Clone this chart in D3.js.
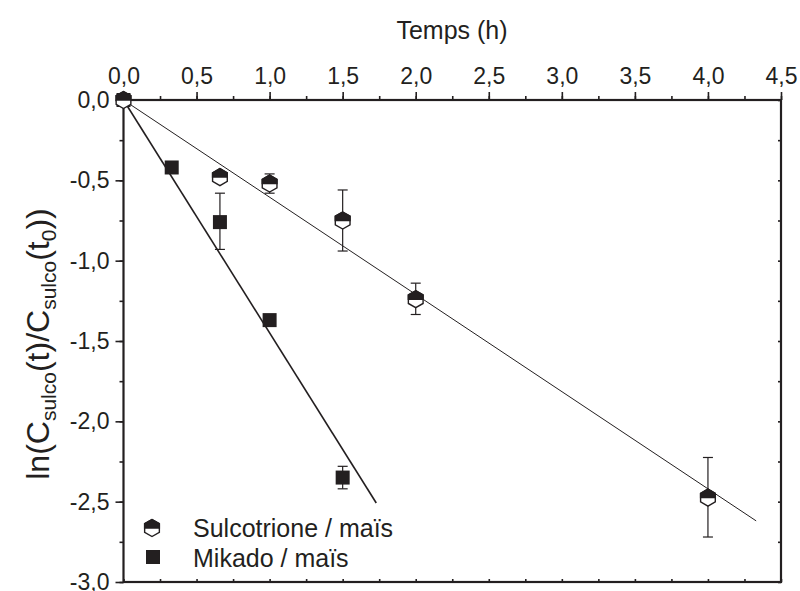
<!DOCTYPE html>
<html>
<head>
<meta charset="utf-8">
<script src="https://cdn.jsdelivr.net/npm/d3@7"></script>
<style>
  body { margin: 0; background: #fff; }
  text { font-family: Arial, "Liberation Sans", sans-serif; fill: #231f20; }
</style>
</head>
<body>
<svg id="chart" width="800" height="591"></svg>
<script>
// data
const sulcoTime = [0, 0.66, 1.0, 1.5, 2.0, 4.0];
const sulcoVal  = [0, -0.48, -0.52, -0.75, -1.24, -2.475];
const sulcoLo   = [null, null, -0.58, -0.94, -1.335, -2.72];
const sulcoHi   = [null, null, -0.46, -0.56, -1.14, -2.225];

const mikaTime = [0, 0.33, 0.66, 1.0, 1.5];
const mikaVal  = [0, -0.42, -0.76, -1.37, -2.35];
const mikaLo   = [null, null, -0.93, null, -2.42];
const mikaHi   = [null, null, -0.58, null, -2.28];

// fitted lines (through origin): slope and end time
const sulcoFit = { slope: -0.605, end: 4.33 };
const mikaFit  = { slope: -1.45, end: 1.73 };

const xTicks = [0, 0.5, 1, 1.5, 2, 2.5, 3, 3.5, 4, 4.5];
const yTicks = [0, -0.5, -1, -1.5, -2, -2.5, -3];
const legendLabels = ["Sulcotrione / maïs", "Mikado / maïs"];

const svg = d3.select("#chart");
const ink = "#231f20";

const x = d3.scaleLinear().domain([0, 4.5]).range([123.5, 781]);
const y = d3.scaleLinear().domain([0, -3]).range([100, 582]);

const fmt = d => d3.format(".1f")(d).replace(".", ",").replace("−", "-");

const minorX = d3.range(0, 4.5001, 0.25);
const minorY = d3.range(0, -3.0001, -0.25);

// top axis (labelled)
const topAxis = svg.append("g").attr("transform", `translate(0,${y(0)})`);
topAxis.call(d3.axisTop(x).tickValues(minorX).tickSize(4).tickFormat(""));
topAxis.append("g").call(d3.axisTop(x).tickValues(xTicks).tickSize(8).tickPadding(8).tickFormat(fmt));

// left axis (labelled)
const leftAxis = svg.append("g").attr("transform", `translate(${x(0)},0)`);
leftAxis.call(d3.axisLeft(y).tickValues(minorY).tickSize(4).tickFormat(""));
leftAxis.append("g").call(d3.axisLeft(y).tickValues(yTicks).tickSize(8).tickPadding(6).tickFormat(fmt));

// bottom and right axes: small inward ticks
svg.append("g").attr("transform", `translate(0,${y(-3)})`)
  .call(d3.axisTop(x).tickValues(minorX).tickSize(3).tickFormat(""));
svg.append("g").attr("transform", `translate(${x(4.5)},0)`)
  .call(d3.axisLeft(y).tickValues(minorY).tickSize(3).tickFormat(""));

svg.selectAll(".domain").remove();
svg.selectAll(".tick line").attr("stroke", ink).attr("stroke-width", 1.6);
svg.selectAll(".tick text").attr("font-size", 23).attr("fill", ink)
  .style("font-family", "Arial, 'Liberation Sans', sans-serif");

// frame
svg.append("rect")
  .attr("x", x(0)).attr("y", y(0))
  .attr("width", x(4.5) - x(0)).attr("height", y(-3) - y(0))
  .attr("fill", "none").attr("stroke", ink).attr("stroke-width", 2.2);

// axis titles
svg.append("text").attr("x", 452).attr("y", 39).attr("text-anchor", "middle")
  .attr("font-size", 25).text("Temps (h)");

const yl = svg.append("text")
  .attr("transform", "translate(49,344) rotate(-90)")
  .attr("text-anchor", "middle").attr("font-size", 32);
yl.append("tspan").text("ln(C");
yl.append("tspan").attr("font-size", 21).attr("dy", 7).text("sulco");
yl.append("tspan").attr("dy", -7).text("(t)/C");
yl.append("tspan").attr("font-size", 21).attr("dy", 7).text("sulco");
yl.append("tspan").attr("dy", -7).text("(t");
yl.append("tspan").attr("font-size", 21).attr("dy", 7).text("0");
yl.append("tspan").attr("dy", -7).text("))");

// fit lines
svg.append("line")
  .attr("x1", x(0)).attr("y1", y(0))
  .attr("x2", x(sulcoFit.end)).attr("y2", y(sulcoFit.slope * sulcoFit.end))
  .attr("stroke", ink).attr("stroke-width", 1);
svg.append("line")
  .attr("x1", x(0)).attr("y1", y(0))
  .attr("x2", x(mikaFit.end)).attr("y2", y(mikaFit.slope * mikaFit.end))
  .attr("stroke", ink).attr("stroke-width", 1.6);

// error bars
function errorBars(times, lo, hi) {
  const idx = d3.range(times.length).filter(i => lo[i] !== null);
  const g = svg.append("g").attr("stroke", ink).attr("stroke-width", 1.2);
  idx.forEach(i => {
    const cx = x(times[i]);
    g.append("line").attr("x1", cx).attr("x2", cx).attr("y1", y(lo[i])).attr("y2", y(hi[i]));
    [lo[i], hi[i]].forEach(v => {
      g.append("line").attr("x1", cx - 5).attr("x2", cx + 5).attr("y1", y(v)).attr("y2", y(v));
    });
  });
}
errorBars(mikaTime, mikaLo, mikaHi);
errorBars(sulcoTime, sulcoLo, sulcoHi);

// hexagon marker, top half filled
function hexagon(g, cx, cy) {
  const r = 8.5, w = r * Math.cos(Math.PI / 6);
  const pts = [[0, -r], [w, -r / 2], [w, r / 2], [0, r], [-w, r / 2], [-w, -r / 2]];
  const topHalf = [[-w, 0], [-w, -r / 2], [0, -r], [w, -r / 2], [w, 0]];
  g.append("polygon").attr("points", pts.map(p => [cx + p[0], cy + p[1]].join(",")).join(" "))
    .attr("fill", "#fff").attr("stroke", ink).attr("stroke-width", 1.4);
  g.append("polygon").attr("points", topHalf.map(p => [cx + p[0], cy + p[1]].join(",")).join(" "))
    .attr("fill", ink).attr("stroke", ink).attr("stroke-width", 1.4);
}
function square(g, cx, cy) {
  g.append("rect").attr("x", cx - 7).attr("y", cy - 7).attr("width", 14).attr("height", 14)
    .attr("fill", ink);
}

const marks = svg.append("g");
mikaTime.forEach((t, i) => square(marks, x(t), y(mikaVal[i])));
sulcoTime.forEach((t, i) => hexagon(marks, x(t), y(sulcoVal[i])));

// legend
const lg = svg.append("g");
hexagon(lg, 152, 528);
square(lg, 153, 557);
lg.append("text").attr("x", 193).attr("y", 537).attr("font-size", 25).text(legendLabels[0]);
lg.append("text").attr("x", 193).attr("y", 567).attr("font-size", 25).text(legendLabels[1]);
</script>
</body>
</html>
